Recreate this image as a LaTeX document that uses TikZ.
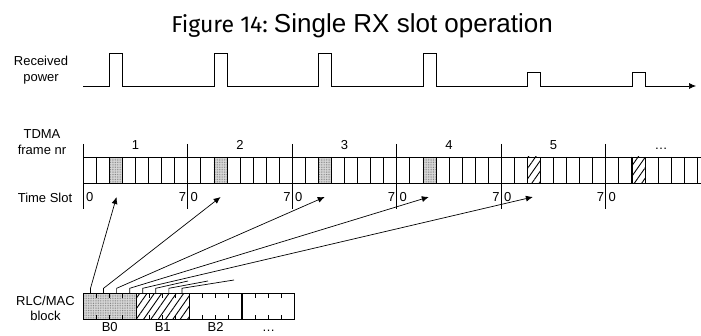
\documentclass[tikz,border=0pt]{standalone}
\usepackage{fontspec}
\setmainfont{Liberation Sans}
\newfontfamily\capfont{Fira Sans}
\usetikzlibrary{arrows.meta,patterns.meta,calc}

\begin{document}
\begin{tikzpicture}[x=1pt, y=-1pt, line width=0.7pt,
  lbl/.style={font=\fontsize{13}{15.5}\selectfont, align=center, inner sep=0pt},
  num/.style={font=\fontsize{13}{15}\selectfont, inner sep=0pt, anchor=base},
  arr/.style={-{Latex[length=7pt,width=6pt]}},
  stip/.style={preaction={fill=gray!30}, pattern={Dots[distance=1.7pt,radius=0.45pt]}, pattern color=gray!90!black},
  hatch/.style={pattern={Lines[angle=55,distance=6pt,line width=0.9pt]}},
  blk/.style={draw, minimum width=52.25pt, minimum height=26pt, inner sep=0pt, anchor=north west}]
\useasboundingbox (0,0) rectangle (701,336);

% title
\node[inner sep=0pt, anchor=base west] (title) at (171,33) {{\capfont\fontsize{23}{28}\selectfont Figure 14:}\hspace{6pt}{\fontsize{26}{30}\selectfont Single RX slot operation}};

% received power
\node[lbl] (rp) at (41,70) {Received\\power};
\coordinate (p0) at (83.3,86);
\coordinate (pend) at (696,86);
\draw[arr] (p0) \foreach \k/\h in {0/53,1/53,2/53,3/53,4/72,5/72} {
  -- ({109.4+104.5*\k},86) -- ({109.4+104.5*\k},\h) -- ({122.5+104.5*\k},\h) -- ({122.5+104.5*\k},86)} -- (pend);

% TDMA frames
\node[lbl] (tdma) at (42,142) {TDMA\\frame nr};
\node[lbl] (ts) at (45,198) {Time Slot};
\foreach \k in {0,...,3} \draw[stip] ({109.4+104.5*\k},157) rectangle ++(13.06,26);
\foreach \k in {4,5} \draw[hatch] ({109.4+104.5*\k},157) rectangle ++(13.06,26);
\draw (83.3,157) -- (701,157) (83.3,183) -- (701,183);
\foreach \s in {1,...,47} \draw ({83.3+13.06*\s},157) -- ++(0,26);
\foreach \k in {0,...,5} \draw ({83.3+104.5*\k},144) -- ++(0,65);
\foreach \k/\t in {0/1,1/2,2/3,3/4,4/5} \node[num] (f\k) at ({135.5+104.5*\k},149.5) {\t};
\node[num] (f5) at (661,149.5) {\dots};
\foreach \k in {0,...,5} \node[num] (z\k) at ({89.7+104.5*\k},201.7) {0};
\foreach \k in {1,...,6} \node[num] (s\k) at ({83.3+104.5*\k-5.4},201.7) {7};
\foreach \k in {0,...,4} \coordinate (t\k) at ({116.5+104.1*\k},197);

% RLC/MAC block
\node[lbl] (rlc) at (45.5,308.5) {RLC/MAC\\block};
\node[blk, stip] (b0) at (83.3,293.3) {};
\node[blk, hatch] (b1) at (b0.north east) {};
\node[blk] (b2) at (b1.north east) {};
\node[blk] (b3) at (b2.north east) {};
\foreach \b in {0,...,3} \foreach \j in {1,2,3} {
  \draw ($(b\b.north west)+(13.06*\j,0)$) -- ++(0,5);
  \draw ($(b\b.south west)+(13.06*\j,0)$) -- ++(0,-5);}
\foreach \b/\t in {0/B0,1/B1,2/B2,3/\dots} \node[num] (l\b) at ($(b\b.south)+(0,11)$) {\t};

% bursts to slots
\foreach \i in {0,...,7} \coordinate (u\i) at ({90.5+13.06*\i},293.3);
\coordinate (e5) at (188,281);
\coordinate (e6) at (208,281);
\coordinate (e7) at (234,280);
\foreach \i in {0,...,4} \draw[arr] (u\i) -- ++(0,-5) -- (t\i);
\foreach \i in {5,6,7} \draw (u\i) -- ++(0,-5) -- (e\i);
\end{tikzpicture}
\end{document}
